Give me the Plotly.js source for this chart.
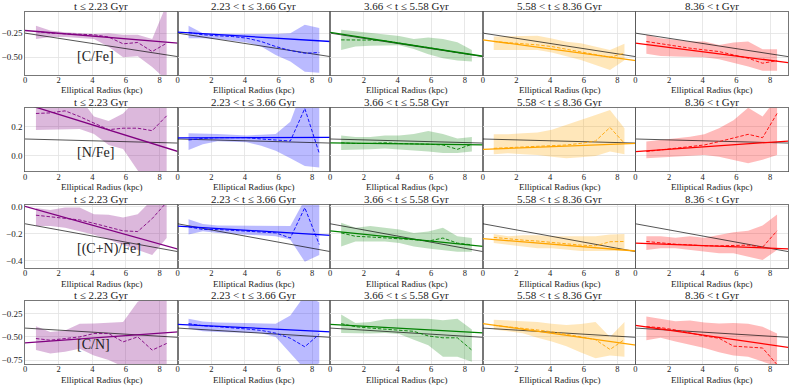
<!DOCTYPE html>
<html>
<head>
<meta charset="utf-8">
<script src="https://cdn.plot.ly/plotly-3.0.1.min.js"></script>
<style>
  html, body { margin: 0; padding: 0; background: #fff; }
  #chart { width: 789px; height: 386px; }
</style>
</head>
<body>
<div id="chart"></div>
<script>
// radial bins (kpc) shared by all panels
var radius = [0.65, 1.5, 2.38, 3.25, 4.1, 4.97, 5.83, 6.7, 7.56, 8.42];
var fitRadius = [0, 9.1];
var ageBins = ['t ≤ 2.23 Gyr', '2.23 < t ≤ 3.66 Gyr', '3.66 < t ≤ 5.58 Gyr', '5.58 < t ≤ 8.36 Gyr', '8.36 < t Gyr'];
var abundances = ['[C/Fe]', '[N/Fe]', '[(C+N)/Fe]', '[C/N]'];
var binColors = ['#800080', '#0000ff', '#008000', '#ffa500', '#ff0000'];
var bandColors = ['rgba(128,0,128,0.28)', 'rgba(0,0,255,0.27)', 'rgba(0,128,0,0.25)', 'rgba(255,165,0,0.27)', 'rgba(255,0,0,0.27)'];

/* [C/Fe] */
var cfeRef = [-0.25, -0.494];
var cfeFit = [[-0.223, -0.354], [-0.24, -0.337], [-0.243, -0.49], [-0.319, -0.535], [-0.354, -0.556]];
var cfeMedian = [
  [-0.233, -0.25, -0.257, -0.26, -0.267, -0.29, -0.361, -0.347, -0.441, -0.354],
  [-0.243, -0.267, -0.278, -0.285, -0.302, -0.337, -0.389, -0.43, -0.458, -0.451],
  [-0.32, -0.32, -0.322, -0.33, -0.35, -0.378, -0.4, -0.425, -0.45, -0.475],
  [-0.337, -0.347, -0.365, -0.372, -0.389, -0.417, -0.441, -0.465, -0.5, -0.458],
  [-0.337, -0.361, -0.382, -0.406, -0.424, -0.441, -0.476, -0.51, -0.562, -0.535]
];
var cfeHigh = [
  [-0.174, -0.222, -0.24, -0.25, -0.26, -0.25, -0.267, -0.267, -0.31, 0.05],
  [-0.174, -0.25, -0.257, -0.26, -0.26, -0.26, -0.26, -0.25, -0.163, -0.198],
  [-0.215, -0.232, -0.25, -0.26, -0.28, -0.31, -0.295, -0.31, -0.345, -0.424],
  [-0.285, -0.283, -0.28, -0.278, -0.305, -0.34, -0.355, -0.389, -0.424, -0.361],
  [-0.267, -0.302, -0.319, -0.337, -0.337, -0.372, -0.347, -0.337, -0.417, -0.417]
];
var cfeLow = [
  [-0.31, -0.29, -0.29, -0.3, -0.31, -0.39, -0.5, -0.49, -0.6, -0.74],
  [-0.302, -0.302, -0.312, -0.326, -0.347, -0.389, -0.476, -0.545, -0.65, -0.66],
  [-0.424, -0.389, -0.38, -0.375, -0.375, -0.415, -0.47, -0.51, -0.535, -0.545],
  [-0.424, -0.424, -0.424, -0.424, -0.45, -0.486, -0.528, -0.58, -0.632, -0.53],
  [-0.465, -0.486, -0.493, -0.493, -0.5, -0.521, -0.556, -0.597, -0.639, -0.639]
];

/* [N/Fe] */
var nfeRef = [0.116, 0.088];
var nfeFit = [[0.357, 0.03], [0.123, 0.127], [0.09, 0.075], [0.045, 0.086], [0.03, 0.102]];
var nfeMedian = [
  [0.291, 0.295, 0.309, 0.27, 0.225, 0.18, 0.19, 0.19, 0.173, 0.275],
  [0.109, 0.12, 0.125, 0.127, 0.125, 0.116, 0.109, 0.102, 0.325, 0.018],
  [0.09, 0.085, 0.085, 0.09, 0.085, 0.085, 0.08, 0.075, 0.045, 0.08],
  [0.052, 0.057, 0.064, 0.064, 0.07, 0.075, 0.086, 0.102, 0.195, 0.086],
  [0.03, 0.041, 0.052, 0.064, 0.075, 0.098, 0.125, 0.148, 0.125, 0.291]
];
var nfeHigh = [
  [0.33, 0.4, 0.4, 0.4, 0.27, 0.24, 0.29, 0.4, 0.4, 0.4],
  [0.155, 0.155, 0.15, 0.145, 0.14, 0.145, 0.15, 0.234, 0.5, 0.5],
  [0.14, 0.13, 0.13, 0.14, 0.14, 0.15, 0.17, 0.15, 0.12, 0.13],
  [0.148, 0.148, 0.155, 0.16, 0.18, 0.215, 0.25, 0.28, 0.314, 0.19],
  [0.098, 0.109, 0.12, 0.132, 0.148, 0.189, 0.245, 0.33, 0.27, 0.4]
];
var nfeLow = [
  [0.177, 0.18, 0.185, 0.185, 0.15, 0.075, 0.048, -0.1, -0.2, -0.2],
  [0.041, 0.08, 0.1, 0.098, 0.093, 0.07, 0.036, -0.016, -0.07, -0.08],
  [0.04, 0.04, 0.045, 0.05, 0.045, 0.04, 0.03, 0.02, 0.02, 0.03],
  [0.011, 0.018, 0.011, 0.007, -0.005, -0.016, -0.01, 0.0, 0.03, 0.011],
  [-0.016, -0.011, -0.005, 0.0, 0.007, -0.005, -0.027, -0.05, -0.027, 0.007]
];

/* [(C+N)/Fe] */
var cnfeRef = [-0.128, -0.333];
var cnfeFit = [[0.0, -0.315], [-0.145, -0.2125], [-0.18, -0.295], [-0.2375, -0.328], [-0.27, -0.3125]];
var cnfeMedian = [
  [-0.065, -0.075, -0.085, -0.1, -0.125, -0.15, -0.18, -0.185, -0.09, 0.03],
  [-0.15, -0.17, -0.17, -0.177, -0.183, -0.19, -0.195, -0.2325, -0.01, -0.28],
  [-0.195, -0.22, -0.225, -0.23, -0.235, -0.245, -0.255, -0.233, -0.27, -0.283],
  [-0.228, -0.24, -0.248, -0.255, -0.265, -0.275, -0.285, -0.29, -0.26, -0.258],
  [-0.258, -0.268, -0.278, -0.283, -0.29, -0.29, -0.285, -0.285, -0.3, -0.18]
];
var cnfeHigh = [
  [-0.0125, -0.0275, -0.0075, -0.008, -0.0575, -0.062, -0.0825, -0.058, 0.05, 0.05],
  [-0.095, -0.13, -0.14, -0.142, -0.143, -0.145, -0.145, -0.145, 0.05, 0.05],
  [-0.12, -0.1575, -0.145, -0.1575, -0.17, -0.195, -0.185, -0.158, -0.22, -0.233],
  [-0.2025, -0.22, -0.2125, -0.2125, -0.22, -0.22, -0.22, -0.22, -0.2075, -0.2025],
  [-0.22, -0.22, -0.23, -0.22, -0.23, -0.21, -0.19, -0.18, -0.14, -0.06]
];
var cnfeLow = [
  [-0.145, -0.145, -0.158, -0.183, -0.208, -0.245, -0.283, -0.32, -0.358, -0.233],
  [-0.2075, -0.1825, -0.195, -0.2, -0.2075, -0.215, -0.22, -0.245, -0.4075, -0.3575],
  [-0.295, -0.258, -0.258, -0.258, -0.27, -0.295, -0.31, -0.32, -0.333, -0.333],
  [-0.27, -0.2825, -0.295, -0.3075, -0.3075, -0.32, -0.3275, -0.3275, -0.3275, -0.3275],
  [-0.32, -0.3075, -0.3075, -0.32, -0.3325, -0.345, -0.345, -0.37, -0.395, -0.32]
];

/* [C/N] */
var cnRef = [-0.405, -0.505];
var cnFit = [[-0.564, -0.446], [-0.364, -0.446], [-0.364, -0.457], [-0.357, -0.589], [-0.375, -0.614]];
var cnMedian = [
  [-0.518, -0.536, -0.518, -0.5, -0.464, -0.464, -0.554, -0.5, -0.643, -0.571],
  [-0.357, -0.38, -0.39, -0.4, -0.415, -0.43, -0.46, -0.515, -0.607, -0.471],
  [-0.357, -0.39, -0.405, -0.415, -0.425, -0.44, -0.49, -0.51, -0.51, -0.643],
  [-0.375, -0.39, -0.405, -0.425, -0.445, -0.47, -0.5, -0.53, -0.636, -0.529],
  [-0.39, -0.4, -0.425, -0.46, -0.49, -0.515, -0.6, -0.61, -0.62, -0.8]
];
var cnHigh = [
  [-0.386, -0.446, -0.43, -0.357, -0.355, -0.35, -0.339, -0.12, -0.05, -0.05],
  [-0.304, -0.335, -0.345, -0.35, -0.355, -0.357, -0.357, -0.27, -0.05, -0.125],
  [-0.257, -0.35, -0.34, -0.31, -0.304, -0.304, -0.304, -0.32, -0.304, -0.421],
  [-0.314, -0.321, -0.329, -0.339, -0.357, -0.373, -0.36, -0.339, -0.5, -0.339],
  [-0.279, -0.3, -0.33, -0.323, -0.345, -0.355, -0.35, -0.357, -0.39, -0.464]
];
var cnLow = [
  [-0.643, -0.679, -0.66, -0.628, -0.7, -0.75, -0.82, -0.9, -0.9, -0.9],
  [-0.41, -0.44, -0.446, -0.45, -0.455, -0.46, -0.5, -0.67, -0.85, -0.786],
  [-0.457, -0.464, -0.464, -0.457, -0.47, -0.53, -0.59, -0.714, -0.714, -0.768],
  [-0.421, -0.44, -0.46, -0.51, -0.55, -0.6, -0.67, -0.73, -0.7, -0.714],
  [-0.536, -0.51, -0.55, -0.585, -0.62, -0.665, -0.7, -0.714, -0.768, -0.82]
];

var rows = [
  { median: cfeMedian, high: cfeHigh, low: cfeLow, fit: cfeFit, ref: cfeRef, range: [-0.684, -0.031], dtick: 0.25, fmt: '.2f' },
  { median: nfeMedian, high: nfeHigh, low: nfeLow, fit: nfeFit, ref: nfeRef, range: [-0.107, 0.332], dtick: 0.2, fmt: '.1f' },
  { median: cnfeMedian, high: cnfeHigh, low: cnfeLow, fit: cnfeFit, ref: cnfeRef, range: [-0.453, 0.01], dtick: 0.2, fmt: '.1f' },
  { median: cnMedian, high: cnHigh, low: cnLow, fit: cnFit, ref: cnRef, range: [-0.793, -0.107], dtick: 0.25, fmt: '.2f' }
];

/* Layout in pixels */
var W = 789, H = 386;
var colLeft = 25, colWidth = 152.6;
var rowPx = [[12, 75], [107.5, 171.5], [205, 268], [300.5, 364]];
var xMax = 9.07;
var font = '"Liberation Serif", "DejaVu Serif", serif';

var traces = [];
var layout = {
  width: W, height: H,
  margin: { l: 0, r: 0, t: 0, b: 0 },
  paper_bgcolor: '#fff', plot_bgcolor: '#fff',
  showlegend: false,
  font: { family: font, color: '#222' },
  annotations: []
};

rows.forEach(function(row, r) {
  var yDom = [1 - rowPx[r][1] / H, 1 - rowPx[r][0] / H];
  for (var c = 0; c < 5; c++) {
    var k = r * 5 + c + 1;
    var xs = k === 1 ? '' : String(k);
    var xa = 'x' + xs, ya = 'y' + xs;
    var left = colLeft + colWidth * c;
    var xDom = [left / W, Math.min((left + colWidth) / W, 1)];

    layout['xaxis' + xs] = {
      domain: xDom, range: [0, xMax], anchor: ya,
      tickvals: [0, 2, 4, 6, 8], ticks: '', ticklabelstandoff: -3,
      tickfont: { size: 8.5, family: font, color: '#222' },
      showgrid: true, gridcolor: '#e2e2e2', gridwidth: 0.8,
      zeroline: false, showline: true, mirror: true,
      linecolor: '#555', linewidth: 0.8
    };
    layout['yaxis' + xs] = {
      domain: yDom, range: row.range, anchor: xa,
      dtick: row.dtick, tick0: 0, tickformat: row.fmt, ticks: '',
      showticklabels: c === 0,
      tickfont: { size: 9, family: font, color: '#222' },
      showgrid: true, gridcolor: '#e2e2e2', gridwidth: 0.8,
      zeroline: false, showline: true, mirror: true,
      linecolor: '#555', linewidth: 0.8
    };

    // spread band
    traces.push({
      x: radius, y: row.low[c], xaxis: xa, yaxis: ya,
      mode: 'lines', line: { width: 0, color: bandColors[c] }, hoverinfo: 'skip'
    });
    traces.push({
      x: radius, y: row.high[c], xaxis: xa, yaxis: ya,
      mode: 'lines', line: { width: 0, color: bandColors[c] },
      fill: 'tonexty', fillcolor: bandColors[c], hoverinfo: 'skip'
    });
    // reference fit (black)
    traces.push({
      x: fitRadius, y: row.ref, xaxis: xa, yaxis: ya,
      mode: 'lines', line: { width: 0.9, color: 'rgba(0,0,0,0.75)' }
    });
    // age-bin fit
    traces.push({
      x: fitRadius, y: row.fit[c], xaxis: xa, yaxis: ya,
      mode: 'lines', line: { width: 1.3, color: binColors[c] }
    });
    // binned median
    traces.push({
      x: radius, y: row.median[c], xaxis: xa, yaxis: ya,
      mode: 'lines', line: { width: 0.9, color: binColors[c], dash: '3.5px,1.8px' }
    });

    // panel title
    layout.annotations.push({
      xref: 'paper', yref: 'paper',
      x: (xDom[0] + xDom[1]) / 2, y: 1 - (rowPx[r][0] - 5.5) / H,
      xanchor: 'center', yanchor: 'middle', borderpad: 0,
      text: ageBins[c], showarrow: false,
      font: { size: 11, family: font, color: '#222' }
    });
    // x-axis title
    layout.annotations.push({
      xref: 'paper', yref: 'paper',
      x: (xDom[0] + xDom[1]) / 2, y: 1 - (rowPx[r][1] + 15.5) / H,
      xanchor: 'center', yanchor: 'middle', borderpad: 0,
      text: 'Elliptical Radius (kpc)', showarrow: false,
      font: { size: 9, family: font, color: '#222' }
    });
  }
  // abundance label in the first panel
  layout.annotations.push({
    xref: 'x' + (r === 0 ? '' : String(r * 5 + 1)), yref: 'paper',
    x: 3, y: yDom[0] + 0.3 * (yDom[1] - yDom[0]),
    xanchor: 'left', yanchor: 'middle',
    text: abundances[r], showarrow: false,
    font: { size: 14, family: font, color: '#222' }
  });
});

Plotly.newPlot('chart', traces, layout, { displayModeBar: false, staticPlot: true });
</script>
</body>
</html>
